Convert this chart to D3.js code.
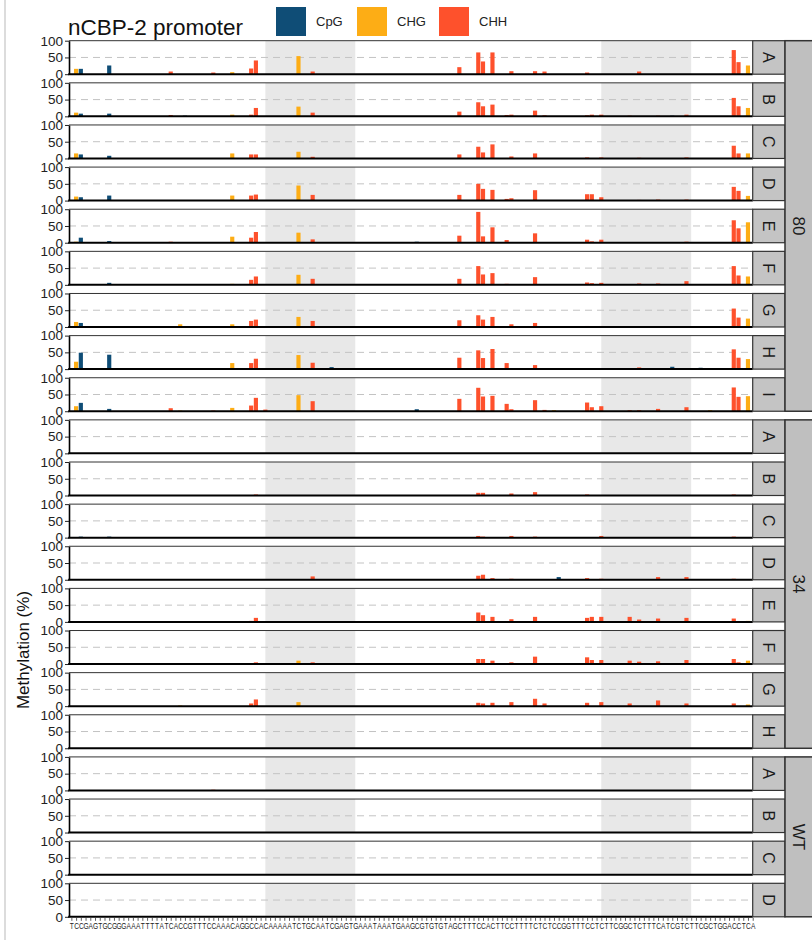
<!DOCTYPE html>
<html>
<head>
<meta charset="utf-8">
<script src="https://cdn.jsdelivr.net/npm/d3@7"></script>
<style>
  body { margin: 0; background: #fff; }
  svg { display: block; font-family: "Liberation Sans", Arial, sans-serif; }
</style>
</head>
<body>
<div id="chart"></div>
<script>
// promoter sequence shown along the x axis
const sequence = [
  "TCCGAGTGCG", "GGAAATTTTA", "TCACCGTTTC", "CAAACAGGCC", "ACAAAAATCT",
  "GCAATCGAGT", "GAAATAAATG", "AAGCGTGTGT", "AGCTTTCCAC", "TTCCTTTTCT",
  "CTCCGGTTTC", "CTCTTCGGCT", "CTTTCATCGT", "CTTCGCTGGA", "CCTCA"
].join("");

// cytosine sites (index in sequence) and their context
const sitePos = [1, 2, 8, 21, 23, 24, 29, 30, 34, 38,
                 39, 41, 48, 51, 55, 73, 82, 86, 87, 89,
                 92, 93, 98, 100, 102, 103, 109, 110, 112, 115,
                 118, 120, 124, 127, 130, 133, 135, 140, 141, 143];
const siteContext = ["CHG", "CpG", "CpG", "CHH", "CHG", "CpG", "CHH", "CHH", "CHG", "CHH",
                     "CHH", "CHH", "CHG", "CHH", "CpG", "CpG", "CHH", "CHH", "CHH", "CHH",
                     "CHH", "CHH", "CHH", "CHH", "CHG", "CpG", "CHH", "CHH", "CHH", "CpG",
                     "CHH", "CHH", "CHH", "CpG", "CHH", "CpG", "CHG", "CHH", "CHH", "CHG"];

const contexts = ["CpG", "CHG", "CHH"];

// grey boxes (sequence index range)
const shadeRanges = [[41, 60], [112, 131]];

// methylation (%) per clone, one value per site
const meth80 = [
  [16,16,26,8,0,0,0,5,6,17, 41,0,54,8,0,0,21,65,38,65, 0,9,9,8,0,0,5,0,0,0, 0,8,0,0,0,0,0,72,36,26],
  [11,8,8,4,0,2,0,0,5,5, 25,0,29,11,0,0,14,42,30,35, 4,5,17,3,0,0,3,5,5,0, 2,0,2,2,5,0,0,55,30,25],
  [15,12,8,0,0,0,0,0,15,12, 12,0,20,5,0,0,12,35,18,42, 0,6,15,0,0,0,3,0,3,0, 0,2,0,0,3,0,0,38,15,15],
  [12,10,15,0,0,0,0,0,15,15, 18,0,45,17,0,0,17,50,35,32, 5,7,31,0,0,0,19,19,10,0, 0,2,3,0,3,0,0,41,29,14],
  [3,15,5,3,0,0,0,0,18,15, 32,0,30,10,0,3,21,92,19,46, 8,0,28,0,0,0,9,4,9,0, 0,0,2,0,3,0,0,67,43,61],
  [0,0,6,2,0,0,0,2,3,15, 25,0,30,18,0,0,18,56,31,35, 3,0,23,0,0,0,7,5,6,0, 0,4,4,0,11,0,2,56,28,25],
  [15,12,0,0,8,0,0,0,8,18, 22,0,30,18,0,0,20,35,22,30, 0,8,12,0,0,0,3,0,3,0, 0,0,0,0,0,0,0,55,28,25],
  [22,49,43,0,0,0,0,2,18,18, 31,0,42,19,6,0,34,56,33,60, 18,0,12,0,2,0,3,3,0,0, 0,5,0,7,3,4,2,59,34,30],
  [15,25,7,9,2,0,0,2,10,17, 40,5,48,30,0,6,37,70,44,46, 22,6,33,4,3,0,26,12,15,0, 3,3,7,0,12,0,3,71,43,45]
];
const meth34 = [
  [0,0,0,0,0,0,0,0,0,0, 0,0,0,0,0,0,0,0,0,0, 0,0,0,0,0,0,0,0,0,0, 0,0,0,0,0,0,0,0,0,0],
  [0,0,0,0,0,0,0,0,0,0, 3,0,0,0,0,0,0,8,8,0, 0,6,10,0,0,0,3,0,0,0, 0,0,0,0,0,0,0,3,0,0],
  [0,3,3,0,0,0,0,0,0,0, 0,0,0,0,0,0,0,5,3,0, 0,5,3,0,0,0,0,0,5,0, 0,0,0,0,0,0,0,3,0,0],
  [0,0,0,0,0,0,0,0,0,0, 0,0,0,10,0,0,0,12,15,5, 0,3,0,0,0,8,5,0,3,0, 0,0,8,0,8,0,0,3,0,0],
  [0,0,0,0,0,0,0,0,0,3, 12,0,0,0,0,0,0,28,20,15, 0,8,15,0,0,0,12,15,15,0, 15,7,10,0,12,0,0,10,0,3],
  [3,0,0,0,0,0,0,0,0,0, 5,0,10,5,0,0,0,15,15,10, 0,5,22,0,0,0,20,12,12,0, 10,7,8,0,12,0,0,15,5,10],
  [0,0,0,0,2,0,0,0,0,8, 20,0,12,0,0,0,0,10,8,10, 0,12,22,8,0,0,10,0,12,0, 8,0,17,0,8,0,0,8,0,5],
  [0,0,0,0,0,0,0,0,0,0, 0,0,0,0,0,0,0,0,0,0, 0,0,0,0,0,0,0,0,0,0, 0,0,0,0,0,0,0,0,0,0]
];
const methWT = [
  [0,0,0,0,0,0,0,2,0,0, 0,0,0,0,0,0,0,0,0,0, 0,0,0,0,0,0,0,0,0,0, 0,0,0,0,0,0,0,0,0,0],
  [0,0,0,0,0,0,0,0,0,0, 0,0,0,0,0,0,0,0,0,0, 0,0,0,0,0,0,0,0,0,0, 0,0,0,0,0,0,0,0,0,0],
  [0,0,0,0,0,0,0,0,0,0, 0,0,0,0,0,0,0,0,0,0, 0,0,0,0,0,0,0,0,0,0, 0,0,0,0,0,0,0,0,0,0],
  [0,0,0,0,0,0,0,0,0,0, 0,0,0,0,0,0,0,0,0,0, 0,0,0,0,0,0,0,0,0,0, 0,0,0,0,0,0,0,0,0,0]
];

const groupNames = ["80", "34", "WT"];
const groupSamples = [
  ["A", "B", "C", "D", "E", "F", "G", "H", "I"],
  ["A", "B", "C", "D", "E", "F", "G", "H"],
  ["A", "B", "C", "D"]
];
const groupValues = [meth80, meth34, methWT];

// layout
const W = 812, H = 940;
const plotLeft = 69, plotRight = 752.7;
const stripW = 32.3, outerX = 785;
const panelTop0 = 40.7, panelStep = 42.13, panelH = 33.5;

const svg = d3.select("#chart").append("svg")
    .attr("width", W)
    .attr("height", H);

// light frame line on the left edge of the figure
svg.append("line")
    .attr("x1", 5).attr("x2", 5)
    .attr("y1", 0).attr("y2", H)
    .attr("stroke", "#d0d0d0")
    .attr("stroke-width", 1.5);

const x = d3.scaleLinear()
    .domain([-0.5, sequence.length - 1])
    .range([plotLeft, plotRight]);
const unit = x(1) - x(0);
const barW = unit * 0.88;

const y = d3.scaleLinear().domain([0, 100]).range([panelH, 0]);

const color = d3.scaleOrdinal()
    .domain(contexts)
    .range(["#0f4d76", "#fdad15", "#fe512c"]);

// build the panel list
const panels = [];
groupNames.forEach((g, gi) => {
    groupSamples[gi].forEach((s, si) => {
        panels.push({ group: g, sample: s, values: groupValues[gi][si], row: panels.length });
    });
});

svg.append("clipPath").attr("id", "plotClip")
  .append("rect")
    .attr("x", plotLeft).attr("y", 0)
    .attr("width", plotRight - plotLeft).attr("height", panelH);

panels.forEach(p => {
    const g = svg.append("g")
        .attr("transform", `translate(0,${panelTop0 + p.row * panelStep})`);

    g.append("rect")
        .attr("x", plotLeft).attr("y", 0)
        .attr("width", plotRight - plotLeft).attr("height", panelH)
        .attr("fill", "#fff");

    const inner = g.append("g").attr("clip-path", "url(#plotClip)");

    inner.selectAll(".shade")
        .data(shadeRanges)
        .join("rect")
        .attr("class", "shade")
        .attr("x", d => x(d[0]))
        .attr("width", d => x(d[1]) - x(d[0]))
        .attr("y", 0)
        .attr("height", panelH)
        .attr("fill", "#e8e8e8");

    inner.append("line")
        .attr("x1", plotLeft).attr("x2", plotRight)
        .attr("y1", y(50)).attr("y2", y(50))
        .attr("stroke", "#c3c3c3")
        .attr("stroke-width", 1)
        .attr("stroke-dasharray", "7,5");

    const bars = sitePos.map((pos, i) => ({ pos: pos, ctx: siteContext[i], v: p.values[i] }))
        .filter(d => d.v > 0);

    inner.selectAll(".bar")
        .data(bars)
        .join("rect")
        .attr("class", "bar")
        .attr("x", d => x(d.pos) - barW / 2)
        .attr("width", barW)
        .attr("y", d => y(d.v))
        .attr("height", d => y(0) - y(d.v))
        .attr("fill", d => color(d.ctx));

    // panel top border
    g.append("line")
        .attr("x1", plotLeft).attr("x2", plotRight)
        .attr("y1", 0).attr("y2", 0)
        .attr("stroke", "#333")
        .attr("stroke-width", 1);

    // y axis
    const yAxis = g.append("g")
        .attr("transform", `translate(${plotLeft},0)`)
        .call(d3.axisLeft(y).tickValues([0, 50, 100]).tickSize(4).tickSizeOuter(0).tickPadding(2));
    yAxis.select(".domain").attr("stroke", "#000").attr("stroke-width", 1.6);
    yAxis.selectAll(".tick line").attr("stroke", "#222");
    yAxis.selectAll(".tick text")
        .attr("fill", "#222")
        .style("font-size", "13.5px")
        .style("font-family", "Liberation Sans, Arial, sans-serif");

    // bottom axis line
    g.append("line")
        .attr("x1", plotLeft - 0.8).attr("x2", plotRight)
        .attr("y1", panelH).attr("y2", panelH)
        .attr("stroke", "#000")
        .attr("stroke-width", 2);

    // inner strip (sample letter)
    g.append("rect")
        .attr("x", plotRight).attr("y", 0)
        .attr("width", stripW).attr("height", panelH)
        .attr("fill", "#c4c4c4")
        .attr("stroke", "#333")
        .attr("stroke-width", 1.2);
    g.append("text")
        .attr("transform", `translate(${plotRight + stripW / 2},${panelH / 2}) rotate(90)`)
        .attr("text-anchor", "middle")
        .attr("dy", "0.35em")
        .attr("fill", "#1a1a1a")
        .style("font-size", "16px")
        .text(p.sample);
});

// outer strips (group)
groupNames.forEach((gname, gi) => {
    const rows = panels.filter(p => p.group === gname).map(p => p.row);
    const top = panelTop0 + d3.min(rows) * panelStep;
    const bottom = panelTop0 + d3.max(rows) * panelStep + panelH;
    svg.append("rect")
        .attr("x", outerX).attr("y", top)
        .attr("width", 40).attr("height", bottom - top)
        .attr("fill", "#bfbfbf")
        .attr("stroke", "#333")
        .attr("stroke-width", 1.5);
    svg.append("text")
        .attr("transform", `translate(${outerX + 14},${(top + bottom) / 2}) rotate(90)`)
        .attr("text-anchor", "middle")
        .attr("dy", "0.35em")
        .attr("fill", "#1a1a1a")
        .style("font-size", "17px")
        .text(gname);
});

// sequence axis under the last panel
const lastTop = panelTop0 + (panels.length - 1) * panelStep;
const xAxis = svg.append("g")
    .attr("transform", `translate(0,${lastTop + panelH + 1})`)
    .call(d3.axisBottom(x)
        .tickValues(d3.range(sequence.length))
        .tickFormat(i => sequence[i])
        .tickSize(3)
        .tickSizeOuter(0)
        .tickPadding(2));
xAxis.select(".domain").remove();
xAxis.selectAll(".tick line").attr("stroke", "#333").attr("stroke-width", 0.8);
xAxis.selectAll(".tick text")
    .attr("fill", "#222")
    .attr("transform", "scale(0.78,1)")
    .style("font-size", "8.5px")
    .style("font-family", "Liberation Sans, Arial, sans-serif");

// y axis title
svg.append("text")
    .attr("transform", "translate(29,650) rotate(-90)")
    .attr("text-anchor", "middle")
    .attr("fill", "#111")
    .style("font-size", "17px")
    .text("Methylation (%)");

// title
svg.append("text")
    .attr("x", 68).attr("y", 35)
    .attr("fill", "#111")
    .style("font-size", "22.5px")
    .text("nCBP-2 promoter");

// legend
const legendX = [276, 357, 439];
const legend = svg.append("g");
contexts.forEach((c, i) => {
    legend.append("rect")
        .attr("x", legendX[i]).attr("y", 7)
        .attr("width", 30).attr("height", 29)
        .attr("fill", color(c));
    legend.append("text")
        .attr("x", legendX[i] + 40).attr("y", 26)
        .attr("fill", "#222")
        .style("font-size", "13px")
        .text(c);
});
</script>
</body>
</html>
